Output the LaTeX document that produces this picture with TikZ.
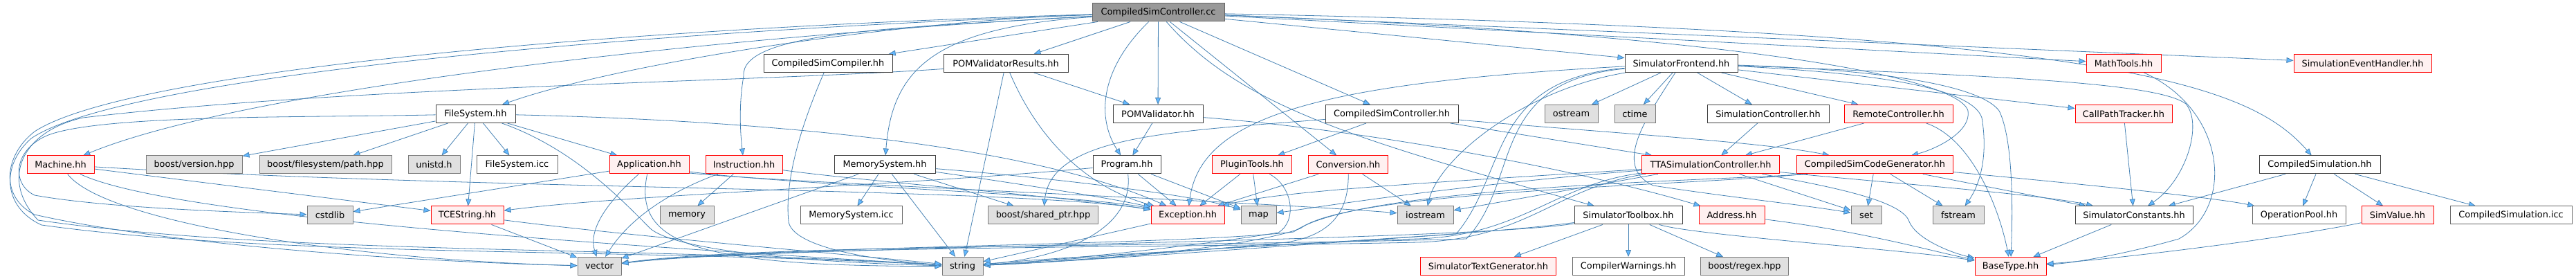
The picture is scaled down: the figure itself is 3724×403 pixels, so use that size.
\documentclass[tikz,border=0pt]{standalone}
\usepackage{fontspec}
\setmainfont{DejaVu Sans}
\usetikzlibrary{arrows.meta}
\definecolor{edgec}{HTML}{4682B4}
\definecolor{tipc}{HTML}{63B8FF}
\definecolor{redfill}{HTML}{FFF0F0}
\definecolor{grayfill}{HTML}{E0E0E0}
\definecolor{rootfill}{HTML}{999999}
\definecolor{bdark}{HTML}{404040}
\definecolor{bmid}{HTML}{666666}
\definecolor{bgray}{HTML}{7A7A7A}
\pgfdeclarelayer{back}
\pgfdeclarelayer{edges}
\pgfsetlayers{back,edges,main}
\tikzset{
  nb/.style={draw, rectangle, minimum height=26pt, inner sep=0pt, line width=1pt,
             font=\fontsize{12.9}{15}\selectfont, text=black},
  ndk/.style={nb, fill=white, draw=bdark},
  nlf/.style={nb, fill=white, draw=bmid},
  nrd/.style={nb, fill=redfill, draw=red},
  ngr/.style={nb, fill=grayfill, draw=bgray},
  nrt/.style={nb, fill=rootfill, draw=bmid},
  dep/.style={draw=edgec, line width=0.8pt, -{Triangle[length=10pt,width=8pt,fill=tipc]}}
}
\begin{document}
\begin{tikzpicture}[x=1pt,y=-1pt]
\begin{pgfonlayer}{back}
\fill[white] (0,0) rectangle (3724,403);
\end{pgfonlayer}
\useasboundingbox (0,0) rectangle (3724,403);
% row 0
\node[nrt, minimum width=191pt] (root) at (1674.5,18) {CompiledSimController.cc};
% row 1
\node[ndk, minimum width=186pt] (csc) at (1197,91.5) {CompiledSimCompiler.hh};
\node[ndk, minimum width=180pt] (pvr) at (1454,91.5) {POMValidatorResults.hh};
\node[ndk, minimum width=163pt] (sfe) at (2430.5,91.5) {SimulatorFrontend.hh};
\node[nrd, minimum width=108pt] (math) at (3070,91.5) {MathTools.hh};
\node[nrd, minimum width=199pt] (seh) at (3415.5,91.5) {SimulationEventHandler.hh};
% row 2
\node[ndk, minimum width=115pt] (fs) at (687.5,164.5) {FileSystem.hh};
\node[ndk, minimum width=130pt] (pv) at (1674,164.5) {POMValidator.hh};
\node[ndk, minimum width=192pt] (cshh) at (2012,164.5) {CompiledSimController.hh};
\node[ngr, minimum width=77pt] (ostream) at (2271.5,164.5) {ostream};
\node[ngr, minimum width=59pt] (ctime) at (2363.5,164.5) {ctime};
\node[ndk, minimum width=176pt] (simc) at (2556,164.5) {SimulationController.hh};
\node[nrd, minimum width=157pt] (rc) at (2744.5,164.5) {RemoteController.hh};
\node[nrd, minimum width=140pt] (cpt) at (3070,164.5) {CallPathTracker.hh};
% row 3
\node[nrd, minimum width=97pt] (machine) at (87.5,238) {Machine.hh};
\node[ngr, minimum width=139pt] (bver) at (280.5,238) {boost/version.hpp};
\node[ngr, minimum width=191pt] (bfs) at (470.5,238) {boost/filesystem/path.hpp};
\node[ngr, minimum width=75pt] (unistd) at (627.5,238) {unistd.h};
\node[nlf, minimum width=117pt] (fsicc) at (747.5,238) {FileSystem.icc};
\node[nrd, minimum width=115pt] (app) at (938.5,238) {Application.hh};
\node[nrd, minimum width=111pt] (instr) at (1075.5,238) {Instruction.hh};
\node[ndk, minimum width=146pt] (ms) at (1279,238) {MemorySystem.hh};
\node[ndk, minimum width=98pt] (prog) at (1629,238) {Program.hh};
\node[nrd, minimum width=115pt] (pt) at (1810,238) {PluginTools.hh};
\node[nrd, minimum width=115pt] (conv) at (1949,238) {Conversion.hh};
\node[nrd, minimum width=199pt] (tta) at (2473,238) {TTASimulationController.hh};
\node[nrd, minimum width=226pt] (cscg) at (2710.5,238) {CompiledSimCodeGenerator.hh};
\node[ndk, minimum width=175pt] (csim) at (3353.5,238) {CompiledSimulation.hh};
% row 4
\node[ngr, minimum width=66pt] (cstdlib) at (477,311) {cstdlib};
\node[nrd, minimum width=105pt] (tces) at (675.5,311) {TCEString.hh};
\node[ngr, minimum width=78pt] (memory) at (993,311) {memory};
\node[nlf, minimum width=147pt] (msicc) at (1230.5,311) {MemorySystem.icc};
\node[ngr, minimum width=159pt] (bsp) at (1508,311) {boost/shared\_ptr.hpp};
\node[nrd, minimum width=106pt] (exc) at (1717,311) {Exception.hh};
\node[ngr, minimum width=51pt] (map) at (1819.5,311) {map};
\node[ngr, minimum width=81pt] (iostream) at (2060.5,311) {iostream};
\node[ndk, minimum width=156pt] (stb) at (2354,311) {SimulatorToolbox.hh};
\node[nrd, minimum width=95pt] (addr) at (2503.5,311) {Address.hh};
\node[ngr, minimum width=44pt] (set) at (2698,311) {set};
\node[ngr, minimum width=74pt] (fstream) at (2831,311) {fstream};
\node[ndk, minimum width=170pt] (sconst) at (3085,311) {SimulatorConstants.hh};
\node[nlf, minimum width=135pt] (opool) at (3323.5,311) {OperationPool.hh};
\node[nrd, minimum width=104pt] (simv) at (3466,311) {SimValue.hh};
\node[nlf, minimum width=176pt] (csicc) at (3630,311) {CompiledSimulation.icc};
% row 5
\node[ngr, minimum width=63pt] (vector) at (866.5,384.5) {vector};
\node[ngr, minimum width=59pt] (string) at (1391.5,384.5) {string};
\node[nrd, minimum width=196pt] (stg) at (2151.5,384.5) {SimulatorTextGenerator.hh};
\node[nlf, minimum width=162pt] (cw) at (2354,384.5) {CompilerWarnings.hh};
\node[ngr, minimum width=127pt] (bregex) at (2522,384.5) {boost/regex.hpp};
\node[nrd, minimum width=103pt] (bt) at (2906.5,384.5) {BaseType.hh};

\begin{pgfonlayer}{edges}
% root
\draw[dep] (root) -- (csc);
\draw[dep] (root) -- (pvr);
\draw[dep] (root) -- (pv);
\draw[dep] (root) .. controls (1590,100) and (1585,170) .. (prog);
\draw[dep] (root) .. controls (1350,40) and (1290,100) .. (ms);
\draw[dep] (root) -- (cshh);
\draw[dep] (root) -- (conv);
\draw[dep] (root) .. controls (1790,150) and (1950,200) .. (stb);
\draw[dep] (root) -- (sfe);
\draw[dep] (root) -- (math);
\draw[dep] (root) -- (seh);
\draw[dep] (root) .. controls (3050,45) and (3250,120) .. (csim);
\draw[dep] (root) .. controls (2500,50) and (2830,110) .. (2845,160) .. controls (2850,190) and (2800,215) .. (cscg);
\draw[dep] (root) .. controls (1300,30) and (900,90) .. (fs);
\draw[dep] (root) .. controls (1300,40) and (1070,45) .. (1075,110) .. controls (1068,150) and (1070,190) .. (instr);
\draw[dep] (root) .. controls (1000,55) and (350,130) .. (machine);
\draw[dep] (root) .. controls (850,42) and (180,105) .. (50,190) .. controls (5,225) and (0,285) .. (50,310) .. controls (250,355) and (600,378) .. (vector);
\draw[dep] (root) .. controls (850,48) and (170,115) .. (45,200) .. controls (0,240) and (5,300) .. (60,325) .. controls (400,372) and (900,358) .. (string);
% POMValidatorResults
\draw[dep] (pvr) -- (pv);
\draw[dep] (pvr) -- (string);
\draw[dep] (pvr) .. controls (1500,200) and (1570,270) .. (exc);
\draw[dep] ([yshift=-8pt]pvr.west) .. controls (1100,118) and (500,125) .. (120,170) .. controls (30,190) and (0,260) .. (55,318) .. controls (400,368) and (900,355) .. (string);
% CompiledSimCompiler
\draw[dep] (csc) .. controls (1150,200) and (1135,270) .. (1140,320) .. controls (1145,355) and (1250,375) .. (string);
% FileSystem
\draw[dep] (fs) -- (bver);
\draw[dep] (fs) -- (bfs);
\draw[dep] (fs) -- (unistd);
\draw[dep] (fs) -- (fsicc);
\draw[dep] (fs) -- (app);
\draw[dep] (fs) -- (tces);
\draw[dep] (fs) .. controls (830,215) and (900,290) .. (940,330) .. controls (980,365) and (1200,380) .. (string);
\draw[dep] (fs) .. controls (1150,175) and (1500,215) .. (exc);
\draw[dep] (fs) .. controls (450,170) and (150,165) .. (70,195) .. controls (20,215) and (15,265) .. (50,282) .. controls (150,300) and (330,306) .. (cstdlib);
% Machine
\draw[dep] (machine) -- (tces);
\draw[dep] (machine) .. controls (700,275) and (1450,270) .. (exc);
\draw[dep] (machine) .. controls (150,320) and (500,375) .. (vector);
\draw[dep] (machine) .. controls (250,315) and (900,355) .. (string);
% Application
\draw[dep] (app) -- (cstdlib);
\draw[dep] (app) .. controls (880,290) and (850,330) .. (vector);
\draw[dep] (app) .. controls (915,350) and (1000,385) .. (string);
\draw[dep] ([yshift=-12pt]app.east) .. controls (1150,265) and (1800,290) .. (iostream);
\draw[dep] ([yshift=-10pt]app.east) .. controls (1150,268) and (1550,280) .. (exc);
% Instruction
\draw[dep] (instr) .. controls (1000,265) and (920,300) .. (vector);
\draw[dep] (instr) -- (memory);
\draw[dep] (instr) .. controls (1250,262) and (1550,285) .. (exc);
% MemorySystem
\draw[dep] (ms) -- (msicc);
\draw[dep] (ms) -- (string);
\draw[dep] (ms) -- (bsp);
\draw[dep] (ms) -- (vector);
\draw[dep] (ms) .. controls (1450,262) and (1600,285) .. (exc);
\draw[dep] (ms) .. controls (1500,255) and (1720,280) .. (map);
% Program
\draw[dep] (prog) -- (exc);
\draw[dep] (prog) .. controls (1640,330) and (1540,372) .. (string);
\draw[dep] (prog) -- (map);
\draw[dep] (prog) .. controls (1300,268) and (900,282) .. (tces);
% PluginTools
\draw[dep] (pt) -- (exc);
\draw[dep] (pt) -- (map);
\draw[dep] (pt) .. controls (1870,270) and (1875,320) .. (1848,336) .. controls (1700,360) and (1500,378) .. (string);
% Conversion
\draw[dep] (conv) -- (exc);
\draw[dep] (conv) -- (iostream);
\draw[dep] (conv) .. controls (1950,310) and (1920,340) .. (1860,350) .. controls (1700,365) and (1500,380) .. (string);
% CompiledSimController.hh
\draw[dep] (cshh) -- (pt);
\draw[dep] (cshh) -- (tta);
\draw[dep] (cshh) .. controls (2300,190) and (2550,205) .. (cscg);
\draw[dep] (cshh) .. controls (1700,190) and (1520,195) .. (bsp);
% POMValidator
\draw[dep] (pv) -- (prog);
\draw[dep] (pv) .. controls (2000,190) and (2300,250) .. (addr);
% SimulatorFrontend
\draw[dep] (sfe) -- (ostream);
\draw[dep] (sfe) -- (ctime);
\draw[dep] (sfe) -- (simc);
\draw[dep] (sfe) -- (rc);
\draw[dep] (sfe) -- (cpt);
\draw[dep] (sfe) .. controls (2200,130) and (2080,230) .. (iostream);
\draw[dep] (sfe) .. controls (2150,115) and (2180,250) .. (2105,338) .. controls (1900,352) and (1600,375) .. (string);
\draw[dep] (sfe) .. controls (2150,118) and (2200,260) .. (2120,345) .. controls (1700,357) and (1100,352) .. (vector);
\draw[dep] (sfe) .. controls (1900,120) and (1735,170) .. (exc);
\draw[dep] (sfe) .. controls (2380,170) and (2330,240) .. (2390,268) .. controls (2500,285) and (2600,295) .. (set);
\draw[dep] (sfe) .. controls (2900,110) and (3120,120) .. (3160,150) .. controls (3185,180) and (3160,260) .. (sconst);
\draw[dep] (sfe) .. controls (2700,100) and (2860,120) .. (2890,160) .. controls (2910,200) and (2910,300) .. (bt);
\draw[dep] (sfe) .. controls (2700,105) and (2850,125) .. (2865,170) .. controls (2875,230) and (2860,270) .. (fstream);
% controllers
\draw[dep] (simc) -- (tta);
\draw[dep] (rc) -- (tta);
\draw[dep] (rc) .. controls (2850,200) and (2890,300) .. (bt);
\draw[dep] (cpt) -- (sconst);
\draw[dep] (math) .. controls (3220,160) and (3230,300) .. (3150,345) .. controls (3080,365) and (3000,380) .. (bt);
% TTASimulationController
\draw[dep] (tta) -- (iostream);
\draw[dep] (tta) -- (set);
\draw[dep] (tta) .. controls (2650,270) and (2750,290) .. (2760,320) .. controls (2770,345) and (2820,365) .. (bt);
\draw[dep] (tta) .. controls (2100,262) and (1850,275) .. (exc);
\draw[dep] (tta) .. controls (2100,268) and (1900,300) .. (map);
\draw[dep] (tta) .. controls (2250,265) and (2200,340) .. (2050,345) .. controls (1800,352) and (1550,375) .. (string);
\draw[dep] (tta) .. controls (2250,270) and (2210,345) .. (2050,350) .. controls (1700,358) and (1100,355) .. (vector);
\draw[dep] (tta) .. controls (2700,262) and (2950,280) .. (sconst);
% CompiledSimCodeGenerator
\draw[dep] (cscg) -- (set);
\draw[dep] (cscg) -- (fstream);
\draw[dep] (cscg) -- (sconst);
\draw[dep] (cscg) .. controls (3000,265) and (3200,285) .. (opool);
\draw[dep] ([xshift=10pt]cscg.south west) .. controls (2450,268) and (1950,275) .. (1880,330) .. controls (1800,360) and (1550,378) .. (string);
\draw[dep] ([xshift=16pt]cscg.south west) .. controls (2450,262) and (1960,270) .. (1870,335) .. controls (1700,355) and (1100,355) .. (vector);
% SimulatorToolbox
\draw[dep] (stb) -- (stg);
\draw[dep] (stb) -- (cw);
\draw[dep] (stb) -- (bregex);
\draw[dep] (stb) .. controls (2100,345) and (1600,365) .. (string);
\draw[dep] (stb) .. controls (2100,350) and (1100,355) .. (vector);
\draw[dep] (stb) .. controls (2450,340) and (2750,360) .. (bt);
% leaves to BaseType etc.
\draw[dep] (addr) .. controls (2700,335) and (2800,365) .. (bt);
\draw[dep] (sconst) -- (bt);
\draw[dep] (simv) .. controls (3300,345) and (3050,375) .. (bt);
\draw[dep] (csim) -- (sconst);
\draw[dep] (csim) -- (opool);
\draw[dep] (csim) -- (simv);
\draw[dep] (csim) -- (csicc);
\draw[dep] (exc) -- (string);
\draw[dep] (tces) -- (vector);
\draw[dep] (tces) .. controls (900,340) and (1200,365) .. (string);
\end{pgfonlayer}
\end{tikzpicture}
\end{document}
